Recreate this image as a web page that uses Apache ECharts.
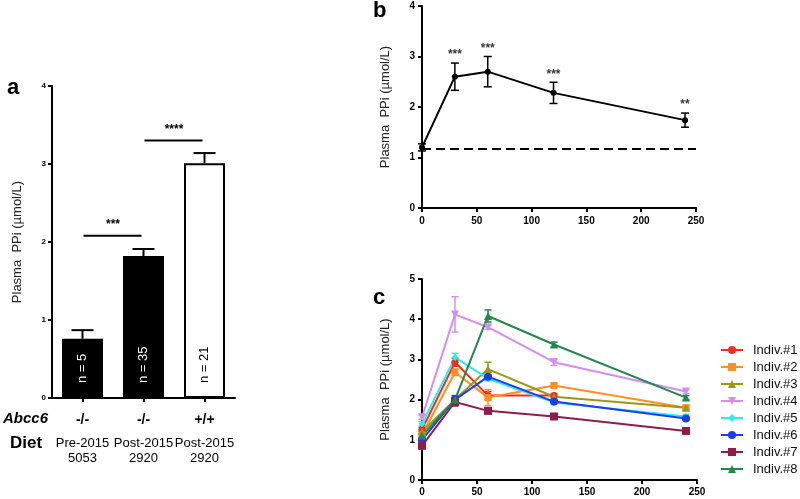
<!DOCTYPE html>
<html><head><meta charset="utf-8">
<script src="https://cdn.jsdelivr.net/npm/echarts@6/dist/echarts.min.js"></script>
<style>html,body{margin:0;padding:0;background:#fff}#c{width:800px;height:499px}</style>
</head><body><div id="c"></div>
<script>
// ---------- Panel a ----------
const genotypes = ['-/-', '-/-', '+/+'];
const dietYear = ['Pre-2015', 'Post-2015', 'Post-2015'];
const dietCode = ['5053', '2920', '2920'];
const barValues = [0.76, 1.82, 3.01];
const barErrors = [0.11, 0.09, 0.13];
const nLabels = ['n = 5', 'n = 35', 'n = 21'];
const sigPairs = [[0, 1, 2.08], [1, 2, 3.3]];
const sigLabels = ['***', '****'];
const yTicksA = [0, 1, 2, 3, 4];

// ---------- Panel b ----------
const timeB = [0, 30, 60, 120, 240];
const meanB = [1.2, 2.6, 2.7, 2.28, 1.74];
const errB = [0.07, 0.27, 0.3, 0.21, 0.14];
const starsB = ['', '***', '***', '***', '**'];
const baselineB = 1.17;

// ---------- Panel c ----------
const timeC = [0, 30, 60, 120, 240];
const indivNames = ['Indiv.#1', 'Indiv.#2', 'Indiv.#3', 'Indiv.#4', 'Indiv.#5', 'Indiv.#6', 'Indiv.#7', 'Indiv.#8'];
const indiv1 = [1.26, 2.93, 2.1, 2.1, null];
const indiv2 = [1.12, 2.68, 2.05, 2.35, 1.8];
const indiv3 = [1.2, 2.0, 2.76, 2.07, 1.8];
const indiv4 = [1.56, 4.12, 3.8, 2.93, 2.2];
const indiv5 = [1.4, 3.05, 2.52, 1.93, 1.58];
const indiv6 = [1.0, 2.0, 2.57, 1.95, 1.53];
const indiv7 = [0.85, 1.94, 1.72, 1.58, 1.22];
const indiv8 = [1.1, 2.0, 4.08, 3.37, 2.05];
const err1 = [0.05, 0.1, 0.1, 0.05, 0];
const err2 = [0.05, 0.08, 0.2, 0.05, 0.05];
const err3 = [0.05, 0.05, 0.17, 0.03, 0.03];
const err4 = [0.05, 0.44, 0.05, 0.08, 0.05];
const err5 = [0.05, 0.1, 0.05, 0.05, 0.05];
const err6 = [0.05, 0.1, 0.05, 0.03, 0.03];
const err7 = [0.05, 0.1, 0.05, 0.03, 0.03];
const err8 = [0.05, 0.05, 0.15, 0.06, 0.05];

const indivValues = [indiv1, indiv2, indiv3, indiv4, indiv5, indiv6, indiv7, indiv8];
const indivErrors = [err1, err2, err3, err4, err5, err6, err7, err8];
const indivColors = ['#f42a1e', '#ff8f1f', '#999912', '#d88cf0', '#28eef0', '#1c3cf2', '#8f1c4c', '#1f8a4c'];
const indivSymbols = ['circle', 'rect', 'triangle', 'triangle', 'diamond', 'circle', 'rect', 'triangle'];
const indivRotate = [0, 0, 0, 180, 0, 0, 0, 0];
const indivSizes = [7, 7, 8, 8, 7, 8, 8, 8];

const FONT = "'Liberation Sans', Arial, sans-serif";
const yTitle = 'Plasma  PPi (µmol/L)';

function errRender(capW, upOnly, color, lw) {
  return function (params, api) {
    const x = api.value(0), m = api.value(1), e = api.value(2);
    if (!e) return null;
    const top = api.coord([x, m + e]);
    const bot = api.coord([x, upOnly ? m : m - e]);
    const st = { stroke: color, lineWidth: lw };
    const ch = [
      { type: 'line', shape: { x1: top[0], y1: top[1], x2: bot[0], y2: bot[1] }, style: st },
      { type: 'line', shape: { x1: top[0] - capW / 2, y1: top[1], x2: top[0] + capW / 2, y2: top[1] }, style: st }
    ];
    if (!upOnly) ch.push({ type: 'line', shape: { x1: bot[0] - capW / 2, y1: bot[1], x2: bot[0] + capW / 2, y2: bot[1] }, style: st });
    return { type: 'group', children: ch };
  };
}

function axisCommon(extra) {
  return Object.assign({
    axisLine: { show: true, lineStyle: { color: '#000', width: 2 } },
    axisTick: { show: true, length: 4, lineStyle: { color: '#000', width: 2 } },
    splitLine: { show: false }
  }, extra);
}

const chart = echarts.init(document.getElementById('c'), null, { renderer: 'canvas' });

const series = [];
// panel a bars
series.push({
  type: 'bar', xAxisIndex: 0, yAxisIndex: 0, barWidth: 41,
  data: barValues.map((v, i) => ({
    value: v,
    itemStyle: i < 2 ? { color: '#000' } : { color: '#fff', borderColor: '#000', borderWidth: 2 },
    label: { color: i < 2 ? '#fff' : '#000' }
  })),
  label: {
    show: true, position: 'insideBottom', rotate: 90, align: 'left', verticalAlign: 'middle',
    distance: 15, fontSize: 13, fontFamily: FONT,
    formatter: p => nLabels[p.dataIndex]
  },
  z: 2
});
series.push({
  type: 'custom', xAxisIndex: 0, yAxisIndex: 0, z: 1,
  renderItem: errRender(22, true, '#000', 2),
  data: barValues.map((v, i) => [i, v, barErrors[i]])
});
series.push({
  type: 'custom', xAxisIndex: 0, yAxisIndex: 0,
  renderItem: function (params, api) {
    const p1 = api.coord([api.value(0), api.value(2)]);
    const p2 = api.coord([api.value(1), api.value(2)]);
    return {
      type: 'group', children: [
        { type: 'line', shape: { x1: p1[0] + 1, y1: p1[1], x2: p2[0] - 2, y2: p2[1] }, style: { stroke: '#000', lineWidth: 2 } },
        { type: 'text', x: (p1[0] + p2[0]) / 2, y: p1[1] - 11, style: { text: sigLabels[params.dataIndex], fill: '#000', font: 'bold 12px ' + FONT, align: 'center', verticalAlign: 'middle' } }
      ]
    };
  },
  data: sigPairs
});

// panel b
series.push({
  type: 'line', xAxisIndex: 1, yAxisIndex: 1,
  data: timeB.map((t, i) => [t, meanB[i]]),
  lineStyle: { color: '#000', width: 2 }, itemStyle: { color: '#000' },
  symbol: 'circle', symbolSize: 6,
  markLine: {
    silent: true, symbol: 'none', label: { show: false },
    lineStyle: { color: '#000', width: 2, type: [9, 5] },
    data: [{ yAxis: baselineB }]
  }
});
series.push({
  type: 'custom', xAxisIndex: 1, yAxisIndex: 1,
  renderItem: errRender(8, false, '#000', 1.5),
  data: timeB.map((t, i) => [t, meanB[i], errB[i]])
});
series.push({
  type: 'scatter', xAxisIndex: 1, yAxisIndex: 1, symbolSize: 0,
  data: timeB.map((t, i) => [t, meanB[i] + errB[i]]),
  label: { show: true, position: 'top', distance: 2, fontSize: 12, fontWeight: 'bold', color: '#000', fontFamily: FONT, formatter: p => starsB[p.dataIndex] }
});

// panel c
indivNames.forEach((name, k) => {
  const pts = [];
  timeC.forEach((t, i) => { if (indivValues[k][i] != null) pts.push([t, indivValues[k][i]]); });
  series.push({
    type: 'line', name: name, xAxisIndex: 2, yAxisIndex: 2,
    data: pts,
    symbol: indivSymbols[k], symbolRotate: indivRotate[k], symbolSize: indivSizes[k],
    lineStyle: { color: indivColors[k], width: 2 },
    itemStyle: { color: indivColors[k] },
    z: 3
  });
});
indivNames.forEach((name, k) => {
  const d = [];
  timeC.forEach((t, i) => { if (indivValues[k][i] != null) d.push([t, indivValues[k][i], indivErrors[k][i]]); });
  series.push({
    type: 'custom', xAxisIndex: 2, yAxisIndex: 2, z: 2,
    renderItem: errRender(7, false, indivColors[k], 1.5),
    data: d
  });
});

const option = {
  animation: false,
  backgroundColor: '#fff',
  textStyle: { fontFamily: FONT },
  grid: [
    { left: 52, top: 86, width: 183, height: 312 },
    { left: 422, top: 6, width: 274, height: 202 },
    { left: 422, top: 279, width: 275, height: 201 }
  ],
  legend: {
    data: indivNames, orient: 'vertical', left: 720, top: 343, padding: 0,
    itemWidth: 22, itemHeight: 10, itemGap: 3,
    textStyle: { fontSize: 13, color: '#111', fontFamily: FONT, lineHeight: 14, padding: [0, 0, 0, 5] }
  },
  xAxis: [
    axisCommon({
      gridIndex: 0, type: 'category', data: genotypes,
      axisTick: { show: true, alignWithLabel: true, length: 4, lineStyle: { color: '#000', width: 2 } },
      axisLabel: {
        interval: 0, margin: 6, color: '#000',
        formatter: (v, i) => `{g|${genotypes[i]}}\n{d|${dietYear[i]}}\n{d|${dietCode[i]}}`,
        rich: {
          g: { fontSize: 14, fontWeight: 'bold', lineHeight: 32, color: '#000', fontFamily: FONT },
          d: { fontSize: 13, lineHeight: 15, color: '#000', fontFamily: FONT }
        }
      }
    }),
    axisCommon({
      gridIndex: 1, type: 'value', min: 0, max: 250, interval: 50,
      axisLabel: { fontSize: 10, fontWeight: 'bold', color: '#000', margin: 8 }
    }),
    axisCommon({
      gridIndex: 2, type: 'value', min: 0, max: 250, interval: 50,
      axisLabel: { fontSize: 10, fontWeight: 'bold', color: '#000', margin: 7 }
    })
  ],
  yAxis: [
    axisCommon({
      gridIndex: 0, type: 'value', min: yTicksA[0], max: yTicksA[yTicksA.length - 1], interval: 1,
      axisLabel: { fontSize: 8, fontWeight: 'bold', color: '#000', margin: 6 },
      name: yTitle, nameLocation: 'middle', nameGap: 28,
      nameTextStyle: { fontSize: 13, color: '#222', fontFamily: FONT }
    }),
    axisCommon({
      gridIndex: 1, type: 'value', min: 0, max: 4, interval: 1,
      axisLabel: { fontSize: 10, fontWeight: 'bold', color: '#000', margin: 7 },
      name: yTitle, nameLocation: 'middle', nameGap: 30,
      nameTextStyle: { fontSize: 13, color: '#222', fontFamily: FONT }
    }),
    axisCommon({
      gridIndex: 2, type: 'value', min: 0, max: 5, interval: 1,
      axisLabel: { fontSize: 10, fontWeight: 'bold', color: '#000', margin: 7 },
      name: yTitle, nameLocation: 'middle', nameGap: 30,
      nameTextStyle: { fontSize: 13, color: '#222', fontFamily: FONT }
    })
  ],
  graphic: [
    { type: 'text', left: 7, top: 77, style: { text: 'a', font: 'bold 22px ' + FONT, fill: '#000' } },
    { type: 'text', left: 373, top: 0, style: { text: 'b', font: 'bold 22px ' + FONT, fill: '#000' } },
    { type: 'text', left: 373, top: 287, style: { text: 'c', font: 'bold 22px ' + FONT, fill: '#000' } },
    { type: 'text', left: 3, top: 411, style: { text: 'Abcc6', font: 'italic bold 15px ' + FONT, fill: '#000' } },
    { type: 'text', left: 10, top: 435, style: { text: 'Diet', font: 'bold 17px ' + FONT, fill: '#000' } }
  ],
  series: series
};
chart.setOption(option);
</script>
</body></html>
